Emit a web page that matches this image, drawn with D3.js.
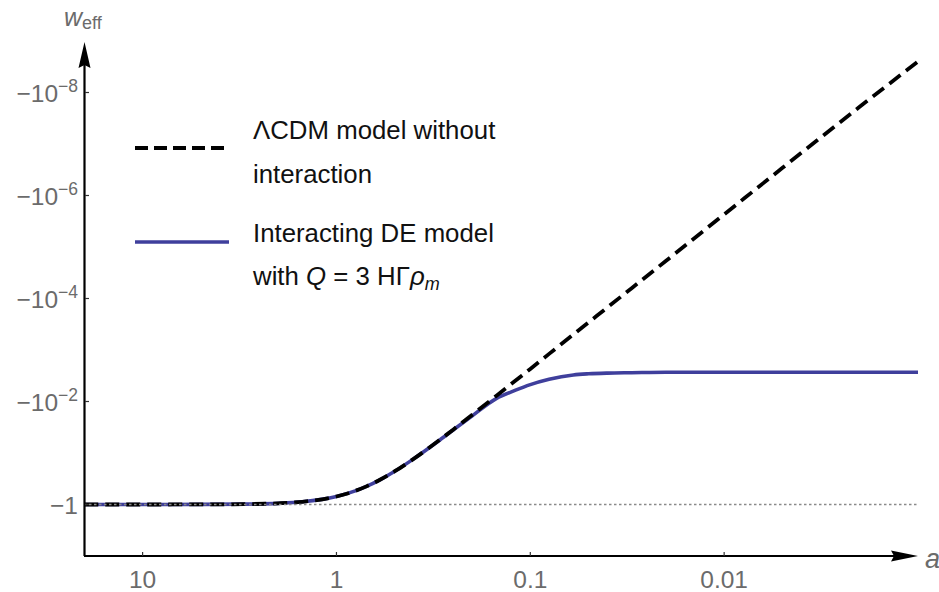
<!DOCTYPE html>
<html>
<head>
<meta charset="utf-8">
<script src="https://cdn.jsdelivr.net/npm/d3@7"></script>
<style>
  body { margin: 0; background: #fff; }
  svg { font-family: "Liberation Sans", Arial, sans-serif; }
</style>
</head>
<body>
<svg id="chart" width="939" height="592"></svg>
<script>
// scale factor a (x axis, reversed log)
var aVals = [20, 10, 5, 3, 2, 1.5, 1, 0.8, 0.7, 0.6, 0.5, 0.4, 0.3, 0.25, 0.2, 0.15, 0.12, 0.1,
             0.08, 0.06, 0.05, 0.04, 0.03, 0.02, 0.01, 0.005, 0.002, 0.001];

// LCDM without interaction
var lcdmW = [-0.99995, -0.9996, -0.9966, -0.984, -0.949, -0.887, -0.70, -0.544, -0.4445, -0.335, -0.226,
             -0.130, -0.0593, -0.0352, -0.0183, -0.0078, -0.0040, -0.00233,
             -0.00119, -5.0e-4, -2.9e-4, -1.49e-4, -6.3e-5, -1.87e-5, -2.33e-6, -2.9e-7, -1.9e-8, -2.5e-9];

// interacting DE model
var intW = [-0.99995, -0.9996, -0.9966, -0.984, -0.949, -0.887, -0.70, -0.544, -0.4445, -0.335, -0.226,
            -0.130, -0.0598, -0.0358, -0.0192, -0.0088, -0.0061, -0.0047,
            -0.0037, -0.00305, -0.0029, -0.00281, -0.00276, -0.0027, -0.0027, -0.0027, -0.0027, -0.0027];

var xTicks = [10, 1, 0.1, 0.01];
var xTickLabels = ["10", "1", "0.1", "0.01"];
var yTicks = [1, 1e-2, 1e-4, 1e-6, 1e-8];
var yTickExp = ["", "\u22122", "\u22124", "\u22126", "\u22128"];

var svg = d3.select("#chart");
var gray = "#6b6b6b";

// scales
var x = d3.scaleLog().domain([20.06, 0.001]).range([84, 918]);
var y = d3.scaleLog().domain([10, 1e-9]).range([556, 41]);   // on -w

var line = d3.line()
    .x(function (d) { return x(d[0]); })
    .y(function (d) { return y(-d[1]); })
    .curve(d3.curveMonotoneX);

var lcdmData = aVals.map(function (a, i) { return [a, lcdmW[i]]; });
var intData = aVals.map(function (a, i) { return [a, intW[i]]; });

// curves
svg.append("path")
    .attr("d", line(intData))
    .attr("fill", "none")
    .attr("stroke", "#3f3f9c")
    .attr("stroke-width", 3.6);

svg.append("path")
    .attr("d", line(lcdmData))
    .attr("fill", "none")
    .attr("stroke", "#000")
    .attr("stroke-width", 3.8)
    .attr("stroke-dasharray", "14,7");

// reference line at w = -1
svg.append("line")
    .attr("x1", x(20.06)).attr("x2", 918)
    .attr("y1", y(1)).attr("y2", y(1))
    .attr("stroke", "#8a8a8a")
    .attr("stroke-width", 1.6)
    .attr("stroke-dasharray", "2.5,2.5");

// axes
svg.append("line")
    .attr("x1", 84).attr("x2", 900).attr("y1", 556).attr("y2", 556)
    .attr("stroke", "#000").attr("stroke-width", 2.2);
svg.append("path")
    .attr("d", "M918,556 L891,550.5 L894,556 L891,561.5 Z")
    .attr("fill", "#000");

svg.append("line")
    .attr("x1", 84.5).attr("x2", 84.5).attr("y1", 556).attr("y2", 60)
    .attr("stroke", "#000").attr("stroke-width", 2.2);
svg.append("path")
    .attr("d", "M84.5,42 L78.5,68 L84.5,65 L90.5,68 Z")
    .attr("fill", "#000");

// x ticks
var xt = svg.append("g");
xt.selectAll("line").data(xTicks).enter().append("line")
    .attr("x1", function (d) { return x(d); })
    .attr("x2", function (d) { return x(d); })
    .attr("y1", 556).attr("y2", 552)
    .attr("stroke", "#333").attr("stroke-width", 1.2);
xt.selectAll("text").data(xTicks).enter().append("text")
    .attr("x", function (d) { return x(d); })
    .attr("y", 588)
    .attr("text-anchor", "middle")
    .attr("font-size", 24.5)
    .attr("fill", gray)
    .text(function (d, i) { return xTickLabels[i]; });

// y ticks
var yt = svg.append("g");
yt.selectAll("line").data(yTicks).enter().append("line")
    .attr("x1", 85).attr("x2", 89)
    .attr("y1", function (d) { return y(d); })
    .attr("y2", function (d) { return y(d); })
    .attr("stroke", "#333").attr("stroke-width", 1.2);
yt.selectAll("text").data(yTicks).enter().append("text")
    .attr("x", 78)
    .attr("y", function (d) { return y(d) + 9; })
    .attr("text-anchor", "end")
    .attr("font-size", 24.5)
    .attr("fill", gray)
    .each(function (d, i) {
        var t = d3.select(this);
        if (yTickExp[i] === "") {
            t.text("\u22121");
        } else {
            t.append("tspan").text("\u221210");
            t.append("tspan").attr("dy", -10).attr("font-size", 17.5).text(yTickExp[i]);
        }
    });

// axis labels
var wl = svg.append("text").attr("x", 64).attr("y", 26).attr("fill", gray);
wl.append("tspan").attr("font-size", 25).attr("font-style", "italic").text("w");
wl.append("tspan").attr("font-size", 18).attr("dy", 3).text("eff");

svg.append("text")
    .attr("x", 925).attr("y", 568)
    .attr("font-size", 27).attr("font-style", "italic")
    .attr("fill", gray)
    .text("a");

// legend
var lg = svg.append("g").attr("font-size", 25.8).attr("fill", "#111");
lg.append("line")
    .attr("x1", 135).attr("x2", 230).attr("y1", 148).attr("y2", 148)
    .attr("stroke", "#000").attr("stroke-width", 3.8)
    .attr("stroke-dasharray", "13,6");
lg.append("text").attr("x", 253).attr("y", 139).text("\u039BCDM model without");
lg.append("text").attr("x", 253).attr("y", 183).text("interaction");

lg.append("line")
    .attr("x1", 135).attr("x2", 229).attr("y1", 242).attr("y2", 242)
    .attr("stroke", "#3f3f9c").attr("stroke-width", 3.6);
lg.append("text").attr("x", 253).attr("y", 242).text("Interacting DE model");
var q = lg.append("text").attr("x", 253).attr("y", 285);
q.append("tspan").text("with ");
q.append("tspan").attr("font-style", "italic").text("Q");
q.append("tspan").text(" = 3 H\u0393");
q.append("tspan").attr("font-style", "italic").text("\u03C1");
q.append("tspan").attr("font-style", "italic").attr("font-size", 18).attr("dy", 5).text("m");
</script>
</body>
</html>
